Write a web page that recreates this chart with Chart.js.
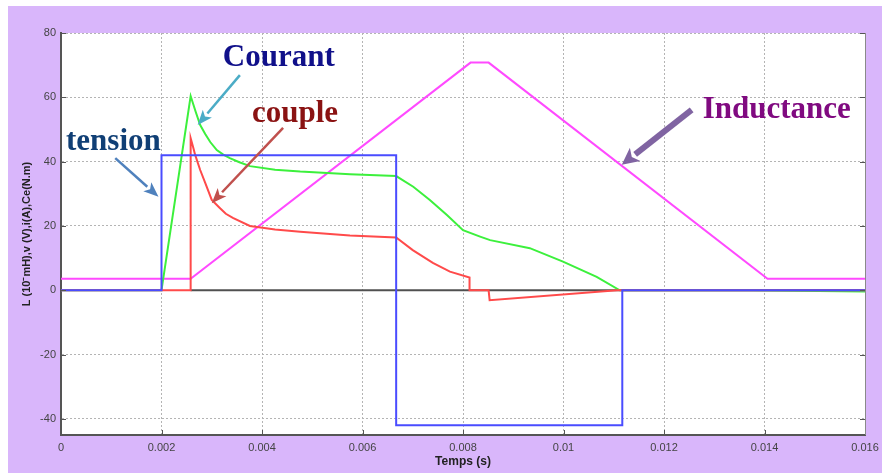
<!DOCTYPE html>
<html>
<head>
<meta charset="utf-8">
<script src="https://cdn.jsdelivr.net/npm/chart.js@4/dist/chart.umd.min.js"></script>
<style>
  html, body { margin: 0; padding: 0; background: #fff; }
  #wrap { width: 882px; height: 475px; }
</style>
</head>
<body>
<div id="wrap"><canvas id="c"></canvas></div>
<script>
// ---------------- data ----------------
const xTicks      = [0, 0.002, 0.004, 0.006, 0.008, 0.010, 0.012, 0.014, 0.016];
const xTickLabels = ["0", "0.002", "0.004", "0.006", "0.008", "0.01", "0.012", "0.014", "0.016"];
const yTicks      = [-40, -20, 0, 20, 40, 60, 80];

// tension v (V)
const tensionT = [0, 0.002, 0.002, 0.00667, 0.00667, 0.01117, 0.01117, 0.016];
const tensionV = [0, 0, 42, 42, -42, -42, 0, 0];

// courant i (A)
const courantT = [0, 0.002, 0.00258, 0.00268, 0.00277, 0.00287, 0.00297, 0.0031, 0.00323, 0.00336, 0.00355, 0.00376, 0.00426,
                  0.00476, 0.00575, 0.00667, 0.00701, 0.00734, 0.00768, 0.0080, 0.00834, 0.00854, 0.00933, 0.00999, 0.01066,
                  0.01112, 0.0137, 0.016];
const courantV = [0, 0, 60.4, 55.5, 51.4, 48.6, 46.1, 43.6, 42.2, 41.1, 39.8, 38.6, 37.5,
                  36.9, 36.1, 35.5, 32.2, 28.1, 23.4, 18.7, 16.7, 15.6, 13.1, 8.9, 4.2,
                  0, 0, -0.4];

// couple Ce (N.m)
const coupleT = [0, 0.00258, 0.00258, 0.00263, 0.00267, 0.00277, 0.00287, 0.0030, 0.00316, 0.00328, 0.00342, 0.00376, 0.00426,
                 0.00476, 0.00575, 0.00667, 0.0070, 0.0074, 0.00774, 0.00813, 0.00813, 0.00851, 0.00853, 0.01107, 0.016];
const coupleV = [0, 0, 47.3, 44.5, 42.1, 37.4, 33.4, 28.1, 25.6, 23.8, 22.5, 20.0, 18.9,
                 18.2, 17.0, 16.4, 12.5, 8.5, 5.8, 4.0, 0, 0, -3.1, 0, 0];

// inductance L
const inductT = [0, 0.00258, 0.00815, 0.00851, 0.01406, 0.016];
const inductV = [3.6, 3.6, 70.8, 70.8, 3.6, 3.6];

// black trace sitting on zero
const zeroT = [0.00258, 0.016];
const zeroV = [0, 0];

// annotations (data coords)
const labels = [
  { text: "Courant",    x: 0.00322, y: 69.7, color: "#10108a" },
  { text: "couple",     x: 0.00380, y: 52.4, color: "#8a1212" },
  { text: "tension",    x: 0.00010, y: 43.6, color: "#103f75" },
  { text: "Inductance", x: 0.01277, y: 53.5, color: "#800a80" }
];
const arrows = [
  { x1: 0.00356, y1: 66.9, x2: 0.00272, y2: 51.4, color: "#4bacc6", w: 2.5, hl: 15, hw: 12 },
  { x1: 0.00442, y1: 50.5, x2: 0.00300, y2: 27.1, color: "#c0504d", w: 2.5, hl: 15, hw: 12 },
  { x1: 0.00108, y1: 41.1, x2: 0.00194, y2: 29.1, color: "#4f81bd", w: 2.5, hl: 15, hw: 12 },
  { x1: 0.01255, y1: 56.1, x2: 0.01116, y2: 39.0, color: "#8064a2", w: 6,   hl: 17, hw: 17 }
];

const pts = (ts, vs) => ts.map((t, i) => ({ x: t, y: vs[i] }));

// ---------------- helpers ----------------
function drawArrow(ctx, x1, y1, x2, y2, color, w, hl, hw){
  const a = Math.atan2(y2 - y1, x2 - x1);
  const bx = x2 - hl * Math.cos(a), by = y2 - hl * Math.sin(a);
  ctx.strokeStyle = color;
  ctx.lineWidth = w;
  ctx.lineCap = "butt";
  ctx.beginPath(); ctx.moveTo(x1, y1); ctx.lineTo(bx, by); ctx.stroke();
  ctx.fillStyle = color;
  ctx.beginPath();
  ctx.moveTo(x2, y2);
  ctx.lineTo(bx + hw / 2 * Math.sin(a), by - hw / 2 * Math.cos(a));
  ctx.lineTo(x2 - hl * 0.75 * Math.cos(a), y2 - hl * 0.75 * Math.sin(a));
  ctx.lineTo(bx - hw / 2 * Math.sin(a), by + hw / 2 * Math.cos(a));
  ctx.closePath(); ctx.fill();
}

const framePlugin = {
  id: "frame",
  beforeDraw(chart){
    const { ctx, width, height, chartArea: a } = chart;
    ctx.save();
    ctx.fillStyle = "#ffffff";
    ctx.fillRect(0, 0, width, height);
    ctx.fillStyle = "#d9b6fb";
    ctx.fillRect(8, 6, width - 8, height - 8);
    ctx.fillStyle = "#ffffff";
    ctx.fillRect(a.left, a.top, a.right - a.left, a.bottom - a.top);
    ctx.restore();
  },
  afterDraw(chart){
    const { ctx, chartArea: a, scales } = chart;
    ctx.save();
    // inner tick marks
    ctx.strokeStyle = "#555";
    ctx.lineWidth = 1;
    ctx.beginPath();
    yTicks.forEach(v => {
      const y = Math.round(scales.y.getPixelForValue(v)) + 0.5;
      ctx.moveTo(a.left, y); ctx.lineTo(a.left + 5, y);
      ctx.moveTo(a.right, y); ctx.lineTo(a.right - 5, y);
    });
    xTicks.forEach(v => {
      const x = Math.round(scales.x.getPixelForValue(v)) + 0.5;
      ctx.moveTo(x, a.bottom); ctx.lineTo(x, a.bottom - 5);
    });
    ctx.stroke();
    // right edge of the box
    ctx.strokeStyle = "#8a8a8a";
    ctx.beginPath(); ctx.moveTo(a.right + 0.5, a.top); ctx.lineTo(a.right + 0.5, a.bottom); ctx.stroke();

    // arrows + labels
    arrows.forEach(r => {
      drawArrow(ctx,
        scales.x.getPixelForValue(r.x1), scales.y.getPixelForValue(r.y1),
        scales.x.getPixelForValue(r.x2), scales.y.getPixelForValue(r.y2),
        r.color, r.w, r.hl, r.hw);
    });
    ctx.font = "bold 31px 'Liberation Serif', 'Times New Roman', serif";
    ctx.textAlign = "left";
    ctx.textBaseline = "alphabetic";
    labels.forEach(l => {
      ctx.fillStyle = l.color;
      ctx.fillText(l.text, scales.x.getPixelForValue(l.x), scales.y.getPixelForValue(l.y));
    });
    ctx.restore();
  }
};

// ---------------- chart ----------------
const line = (data, color, w) => ({
  data, borderColor: color, borderWidth: w || 2, pointRadius: 0,
  tension: 0, fill: false
});

new Chart(document.getElementById("c"), {
  type: "line",
  data: {
    datasets: [
      line(pts(tensionT, tensionV), "#4a4cff"),
      line(pts(coupleT, coupleV),   "#ff4a4a"),
      line(pts(courantT, courantV), "#3cf03c"),
      line(pts(inductT, inductV),   "#ff4aff"),
      line(pts(zeroT, zeroV),       "#505050")
    ]
  },
  options: {
    responsive: true,
    maintainAspectRatio: false,
    animation: false,
    devicePixelRatio: 1,
    layout: { padding: { left: 0, top: 33, right: 17, bottom: 0 } },
    plugins: { legend: { display: false }, tooltip: { enabled: false } },
    scales: {
      x: {
        type: "linear",
        min: 0, max: 0.016,
        afterBuildTicks: s => { s.ticks = xTicks.map(v => ({ value: v })); },
        afterFit: s => { s.height = 40; s.paddingLeft = 0; s.paddingRight = 0; },
        ticks: {
          padding: 6,
          maxRotation: 0,
          color: "#444",
          font: { family: "'Liberation Sans', Arial, sans-serif", size: 11 },
          callback: (v, i) => xTickLabels[i]
        },
        grid: { color: "#b4b4b4", lineWidth: 1, drawTicks: false },
        border: { display: true, color: "#555", width: 2, dash: [2, 2] },
        title: {
          display: true, text: "Temps (s)", color: "#222",
          font: { family: "'Liberation Sans', Arial, sans-serif", size: 12, weight: "bold" },
          padding: { top: 0, bottom: 6 }
        }
      },
      y: {
        type: "linear",
        min: -45, max: 80,
        afterBuildTicks: s => { s.ticks = yTicks.map(v => ({ value: v })); },
        afterFit: s => { s.width = 61; s.paddingTop = 0; s.paddingBottom = 0; },
        ticks: {
          padding: 5,
          color: "#444",
          font: { family: "'Liberation Sans', Arial, sans-serif", size: 11 }
        },
        grid: { color: "#b4b4b4", lineWidth: 1, drawTicks: false },
        border: { display: true, color: "#555", width: 2, dash: [2, 2] },
        title: {
          display: true, text: "L (10⁻mH),v (V),i(A),Ce(N.m)", color: "#222",
          font: { family: "'Liberation Sans', Arial, sans-serif", size: 11, weight: "bold" },
          padding: { top: 20, bottom: 0 }
        }
      }
    }
  },
  plugins: [framePlugin]
});
</script>
</body>
</html>
